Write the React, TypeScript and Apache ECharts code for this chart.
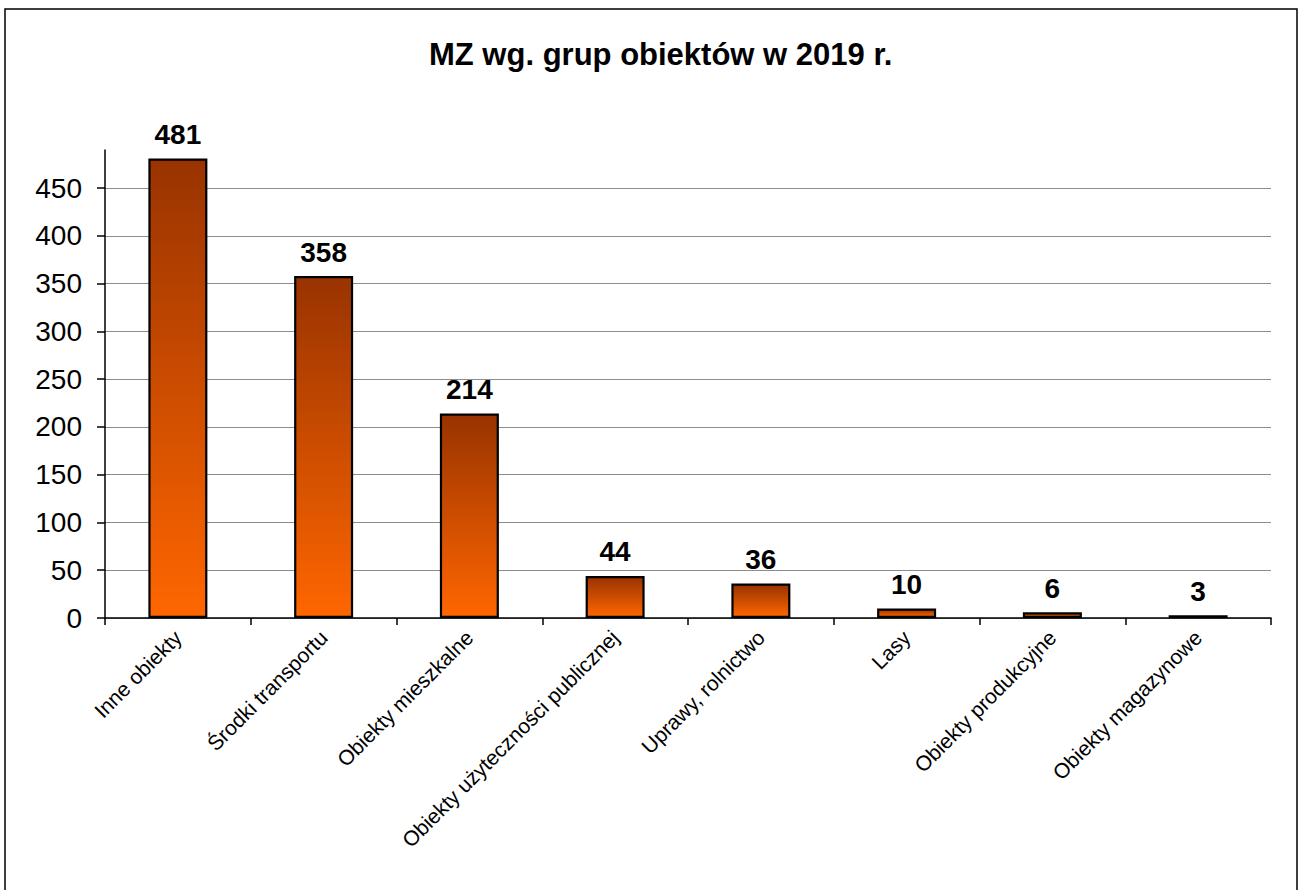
import React, { useEffect, useRef } from "react";
import * as echarts from "echarts";

const categories = [
  "Inne obiekty",
  "Środki transportu",
  "Obiekty mieszkalne",
  "Obiekty użyteczności publicznej",
  "Uprawy, rolnictwo",
  "Lasy",
  "Obiekty produkcyjne",
  "Obiekty magazynowe",
];
const values = [481, 358, 214, 44, 36, 10, 6, 3];
const yTicks = [0, 50, 100, 150, 200, 250, 300, 350, 400, 450];
const titleText = "MZ wg. grup obiektów w 2019 r.";

const FONT = "'Liberation Sans', Arial, sans-serif";

export default function App() {
  const ref = useRef<HTMLDivElement>(null);
  useEffect(() => {
    if (!ref.current) return;
    const chart = echarts.init(ref.current, undefined, { renderer: "svg" });
    chart.setOption({
      animation: false,
      backgroundColor: "#ffffff",
      title: {
        text: titleText,
        left: 429,
        top: 39,
        padding: 0,
        textStyle: { fontFamily: FONT, fontSize: 31, fontWeight: "bold", color: "#000" },
      },
      graphic: [
        {
          type: "rect",
          shape: { x: 5, y: 9, width: 1292, height: 900 },
          style: { fill: "none", stroke: "#000", lineWidth: 1.5 },
          silent: true,
          z: 100,
        },
      ],
      grid: { left: 105, right: 29, top: 150, bottom: 272, containLabel: false },
      xAxis: {
        type: "category",
        data: categories,
        axisLine: { show: true, lineStyle: { color: "#000", width: 1.5 } },
        axisTick: { show: true, alignWithLabel: false, length: 7, lineStyle: { color: "#000", width: 1.5 } },
        axisLabel: {
          rotate: 45,
          interval: 0,
          margin: 16,
          fontFamily: FONT,
          fontSize: 21,
          color: "#000",
        },
        splitLine: { show: false },
      },
      yAxis: {
        type: "value",
        min: 0,
        max: 490,
        interval: 50,
        axisLine: { show: true, lineStyle: { color: "#000", width: 1.5 } },
        axisTick: { show: true, length: 8, customValues: yTicks, lineStyle: { color: "#000", width: 1.5 } },
        axisLabel: {
          customValues: yTicks,
          margin: 23,
          fontFamily: FONT,
          fontSize: 28,
          color: "#000",
        },
        splitLine: { show: true, lineStyle: { color: "#8c8c8c", width: 1.2 } },
      },
      series: [
        {
          type: "bar",
          data: values,
          barWidth: 59,
          itemStyle: {
            color: new echarts.graphic.LinearGradient(0, 0, 0, 1, [
              { offset: 0, color: "#993300" },
              { offset: 1, color: "#ff6600" },
            ]),
            borderColor: "#000",
            borderWidth: 2.2,
          },
          label: {
            show: true,
            position: "top",
            distance: 10,
            fontFamily: FONT,
            fontSize: 28,
            fontWeight: "bold",
            color: "#000",
          },
        },
      ],
    });
    return () => chart.dispose();
  }, []);
  return (
    <div
      ref={ref}
      style={{ position: "fixed", left: 0, top: 0, width: 1300, height: 890 }}
    />
  );
}
